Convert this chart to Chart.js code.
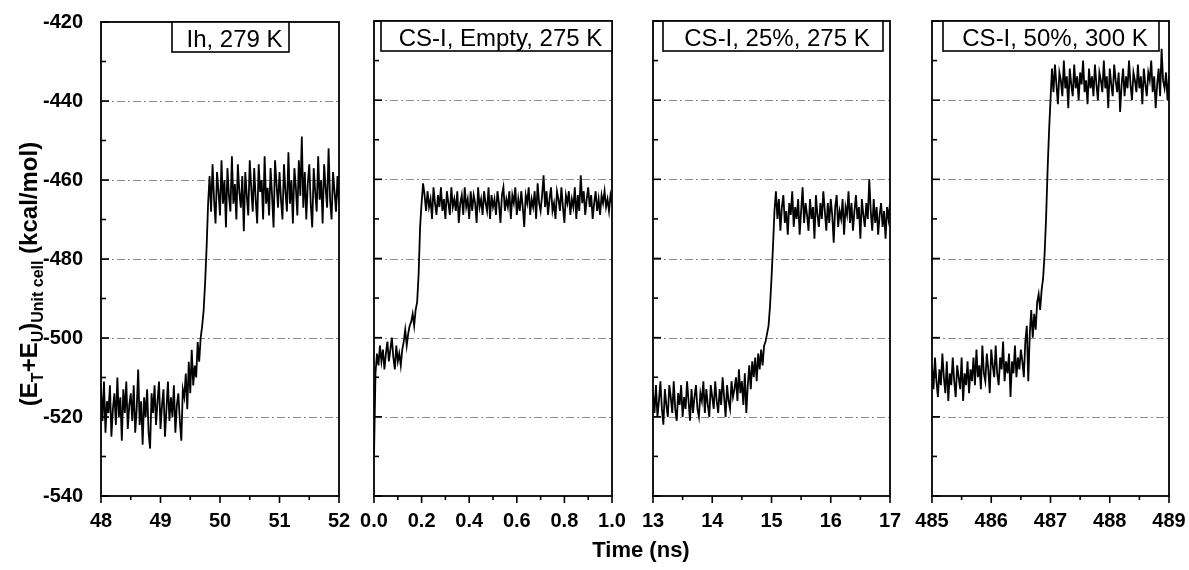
<!DOCTYPE html>
<html>
<head>
<meta charset="utf-8">
<script src="https://cdn.jsdelivr.net/npm/chart.js@4.4.1/dist/chart.umd.min.js"></script>
<style>
html, body { margin: 0; padding: 0; background: #fff; }
#wrap { position: relative; width: 1189px; height: 570px; }
#wrap canvas { position: absolute; left: 0; top: 0; }
</style>
</head>
<body>
<div id="wrap">
  <canvas id="p0" width="1189" height="570"></canvas>
  <canvas id="p1" width="1189" height="570"></canvas>
  <canvas id="p2" width="1189" height="570"></canvas>
  <canvas id="p3" width="1189" height="570"></canvas>
</div>
<script>
// panel titles and time windows (ns)
const panelTitles = ['Ih, 279 K', 'CS-I, Empty, 275 K', 'CS-I, 25%, 275 K', 'CS-I, 50%, 300 K'];
const timeRanges = [[48, 52], [0, 1], [13, 17], [485, 489]];
const majorSteps = [1, 0.2, 1, 1];
const labelDigits = [0, 1, 0, 0];
const sampleSteps = [0.025, 0.00625, 0.025, 0.025];

// energy axis (kcal/mol)
const energyTicks = [-540, -520, -500, -480, -460, -440, -420];
const gridValues = [-520, -500, -480, -460, -440];

// (E_T+E_U) per unit cell, one sample per sampleStep
const ihEnergy = [
  -513, -521, -511, -524, -516, -519, -512, -525, -518, -514,
  -522, -510, -520, -515, -526, -513, -519, -511, -523, -517,
  -514, -521, -512, -524, -518, -508, -522, -516, -527, -515,
  -520, -513, -524, -528, -514, -519, -512, -522, -516, -511,
  -523, -517, -513, -525, -518, -511, -521, -515, -520, -512,
  -524, -517, -514, -521, -526, -513,
  -515, -509, -518, -506, -514, -503, -512, -507, -510, -501, -506, -500,
  -497, -493, -486, -477, -466, -459,
  -468, -456, -465, -471, -458, -463, -469, -455, -466, -460,
  -472, -457, -464, -468, -454, -466, -461, -470, -456, -463,
  -467, -459, -473, -458, -464, -469, -455, -462, -468, -457,
  -465, -471, -456, -463, -460, -470, -454, -466, -462, -469,
  -457, -464, -472, -455, -461, -467, -458, -465, -470, -456,
  -463, -468, -453, -466, -460, -471, -457, -462, -469, -455,
  -464, -449, -467, -458, -470, -461, -456, -466, -472, -457,
  -463, -468, -454, -465, -460, -471, -456, -462, -467, -452,
  -465, -470, -458, -463, -468, -459, -466
];

const emptyEnergy = [
  -530,
  -509, -504, -507, -502, -506, -503, -508, -504, -501, -506,
  -503, -500, -505, -508, -502, -506, -504, -507, -503,
  -501, -498, -502, -499, -497,
  -496, -494, -497, -493,
  -491, -484, -472, -466, -461,
  -464, -468, -463, -467, -465, -470, -462, -466, -469, -464,
  -467, -462, -468, -465, -470, -463, -466, -469, -462, -467,
  -465, -468, -463, -471, -466, -464, -469, -462, -467, -465,
  -470, -463, -468, -464, -466, -471, -462, -467, -465, -469,
  -463, -466, -468, -462, -470, -464, -467, -465, -469, -463,
  -466, -471, -464, -462, -468, -465, -467, -463, -470, -464,
  -466, -462, -469, -465, -468, -463, -467, -472, -464, -466,
  -462, -469, -465, -467, -463, -470, -461, -466, -468, -464,
  -459, -467, -463, -469, -465, -462, -468, -466, -470, -463,
  -465, -468, -462, -467, -471, -464, -466, -463, -469, -465,
  -467, -462, -470, -464, -468, -459, -466, -463, -469, -465,
  -462, -467, -464, -470, -466, -463, -468, -465, -469, -464,
  -466, -463, -467, -465, -468, -464, -466
];

const cs25Energy = [
  -514, -519, -512, -520, -516, -511, -518, -522, -513, -517,
  -520, -512, -515, -519, -511, -518, -521, -514, -517, -512,
  -520, -515, -518, -511, -516, -521, -513, -519, -515, -512,
  -518, -520, -514, -516, -511, -519, -513, -517, -520, -512,
  -515, -518, -511, -516, -519, -513, -517, -510, -515, -520,
  -512, -516, -518, -511, -515, -513,
  -510, -516, -508, -514, -511, -517, -509, -519,
  -512, -507, -513, -506, -510, -505, -511, -504, -508, -503, -507, -502,
  -501, -499, -497, -492, -485, -477, -468, -463,
  -470, -465, -473, -467, -464, -471, -468, -474, -466, -469,
  -463, -472, -467, -470, -465, -474, -468, -462, -471, -466,
  -469, -473, -465, -470, -467, -475, -464, -469, -472, -466,
  -470, -463, -468, -473, -466, -471, -465, -469, -476, -467,
  -464, -472, -468, -470, -465, -474, -467, -469, -463, -471,
  -466, -473, -468, -464, -470, -467, -475, -465, -469, -472,
  -466, -470, -460, -468, -473, -465, -471, -467, -474, -469,
  -466, -472, -468, -475, -467, -470, -466
];

const cs50Energy = [
  -507, -513, -505, -511, -515, -508, -512, -504, -510, -514,
  -506, -516, -509, -512, -505, -511, -515, -507, -510, -513,
  -505, -516, -509, -512, -506, -514, -508, -511,
  -505, -512, -503, -510, -507, -513, -502, -509, -511, -504,
  -508, -514, -503, -507, -510, -502, -509, -512, -505, -508,
  -501, -511, -506, -509,
  -504, -515, -506, -509, -502, -510, -505, -508, -503, -506, -510, -501, -497, -511,
  -499, -493, -500, -494, -498, -491,
  -489, -493, -488,
  -485, -479, -470, -458, -448, -440, -432,
  -438, -431, -436, -441, -433, -435, -439, -430, -437, -434,
  -442, -432, -436, -439, -431, -437, -434, -440, -433, -436,
  -430, -438, -435, -441, -432, -437, -434, -439, -431, -436,
  -440, -433, -435, -438, -430, -437, -434, -442, -432, -436,
  -439, -431, -435, -438, -433, -443, -436, -432, -439, -434,
  -437, -430, -436, -440, -433, -435, -438, -431, -437, -434,
  -441, -432, -436, -439, -433, -435, -430, -438, -434, -442,
  -436, -432, -439, -427, -435, -437, -433, -440, -434
];

const energies = [ihEnergy, emptyEnergy, cs25Energy, cs50Energy];

// page layout (px)
const W = 1189, H = 570;
const plotTop = 21, axisHeight = 74;
const panelLeft = [101, 374, 653, 932];
const panelRight = [339, 612, 890, 1169];
const boxSpan = [[172, 289], [381, 612], [663, 883], [943, 1159]];
const FONT = '"Liberation Sans", Arial, sans-serif';

function line(ctx, x1, y1, x2, y2) {
  ctx.beginPath(); ctx.moveTo(x1, y1); ctx.lineTo(x2, y2); ctx.stroke();
}

function drawRich(ctx, runs, cx, cy) {
  ctx.save();
  ctx.translate(cx, cy);
  ctx.rotate(-Math.PI / 2);
  ctx.fillStyle = '#000';
  ctx.textBaseline = 'alphabetic';
  let total = 0;
  runs.forEach(r => { ctx.font = r.font; r.w = ctx.measureText(r.text).width; total += r.w; });
  let x = -total / 2;
  runs.forEach(r => { ctx.font = r.font; ctx.fillText(r.text, x, r.dy); x += r.w; });
  ctx.restore();
}

const panelDecor = {
  id: 'panelDecor',
  beforeDatasetsDraw(chart) {
    const { ctx, chartArea: a, scales: { y } } = chart;
    ctx.save();
    ctx.strokeStyle = '#8a8a8a';
    ctx.lineWidth = 1;
    ctx.setLineDash([8, 3, 2, 3]);
    gridValues.forEach(v => {
      const py = Math.round(y.getPixelForValue(v)) + 0.5;
      line(ctx, a.left, py, a.right, py);
    });
    ctx.restore();
  },
  afterDatasetsDraw(chart, args, opts) {
    const { ctx, chartArea: a, scales: { x, y } } = chart;
    const i = opts.index;
    ctx.save();
    ctx.strokeStyle = '#000';
    ctx.lineWidth = 1.8;
    ctx.strokeRect(a.left, a.top, a.right - a.left, a.bottom - a.top);

    // y ticks, inward
    ctx.lineWidth = 1.6;
    for (let v = -540; v <= -420; v += 10) {
      const py = y.getPixelForValue(v);
      const len = v % 20 === 0 ? 8 : 5;
      line(ctx, a.left, py, a.left + len, py);
    }
    // x ticks, outward
    const minor = majorSteps[i] / 2;
    const [tMin, tMax] = timeRanges[i];
    for (let k = 0; tMin + k * minor <= tMax + 1e-9; k++) {
      const px = x.getPixelForValue(tMin + k * minor);
      line(ctx, px, a.bottom, px, a.bottom + (k % 2 === 0 ? 7 : 4));
    }

    // title box
    const [bl, br] = boxSpan[i];
    const bt = a.top, bb = a.top + 30;
    ctx.fillStyle = '#fff';
    ctx.fillRect(bl, bt, br - bl, bb - bt);
    ctx.lineWidth = 1.6;
    ctx.strokeRect(bl, bt, br - bl, bb - bt);
    ctx.fillStyle = '#000';
    ctx.font = '24px ' + FONT;
    ctx.textAlign = 'center';
    ctx.textBaseline = 'alphabetic';
    ctx.fillText(panelTitles[i], (bl + br) / 2 + 4, bb - 5);
    ctx.restore();
  },
  afterDraw(chart, args, opts) {
    if (opts.index !== 0) return;
    const ctx = chart.ctx;
    ctx.save();
    ctx.fillStyle = '#000';
    ctx.font = 'bold 22px ' + FONT;
    ctx.textAlign = 'center';
    ctx.textBaseline = 'alphabetic';
    ctx.fillText('Time (ns)', 641, 557);
    ctx.restore();
    const big = 'bold 24px ' + FONT, small = 'bold 16px ' + FONT;
    drawRich(ctx, [
      { text: '(E', font: big, dy: 9 },
      { text: 'T', font: small, dy: 15 },
      { text: '+E', font: big, dy: 9 },
      { text: 'U', font: small, dy: 15 },
      { text: ')', font: big, dy: 9 },
      { text: 'Unit cell', font: small, dy: 15 },
      { text: ' (kcal/mol)', font: big, dy: 9 }
    ], 28, 274);
  }
};

energies.forEach((values, i) => {
  const [tMin, tMax] = timeRanges[i];
  const first = i === 0;
  const tickFont = { family: FONT, size: 20, weight: 'bold' };
  new Chart(document.getElementById('p' + i), {
    type: 'line',
    data: {
      datasets: [{
        data: values.map((e, k) => ({ x: tMin + k * sampleSteps[i], y: e })),
        borderColor: '#000',
        borderWidth: 1.8,
        pointRadius: 0,
        fill: false,
        tension: 0
      }]
    },
    options: {
      responsive: false,
      animation: false,
      events: [],
      layout: { padding: { left: first ? 0 : panelLeft[i], right: W - panelRight[i], top: plotTop, bottom: 0 } },
      plugins: { legend: { display: false }, tooltip: { enabled: false }, panelDecor: { index: i } },
      scales: {
        x: {
          type: 'linear', min: tMin, max: tMax,
          grid: { display: false }, border: { display: false },
          ticks: {
            stepSize: majorSteps[i], autoSkip: false, maxRotation: 0, padding: 5,
            color: '#000', font: tickFont,
            callback: v => Number(v).toFixed(labelDigits[i])
          },
          afterFit: s => { s.height = axisHeight; s.paddingLeft = 0; s.paddingRight = 0; }
        },
        y: {
          min: energyTicks[0], max: energyTicks[energyTicks.length - 1],
          grid: { display: false }, border: { display: false },
          ticks: { display: first, stepSize: 20, padding: 10, color: '#000', font: tickFont },
          afterFit: s => { s.width = first ? panelLeft[0] : 0; }
        }
      }
    },
    plugins: [panelDecor]
  });
});
</script>
</body>
</html>
